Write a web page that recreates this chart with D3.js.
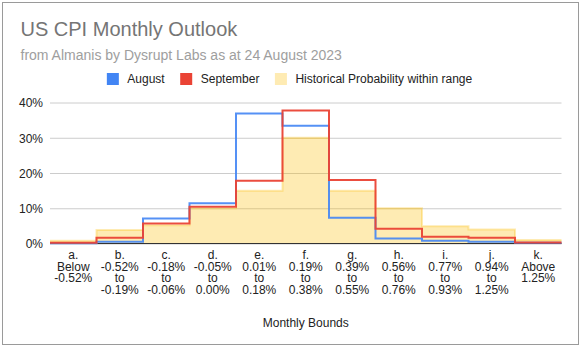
<!DOCTYPE html>
<html>
<head>
<meta charset="utf-8">
<script src="https://cdn.jsdelivr.net/npm/d3@7"></script>
<style>
  body { margin: 0; background: #fff; }
  text { font-family: Arial, "Liberation Sans", sans-serif; }
</style>
</head>
<body>
<div id="chart"></div>
<script>
// bins of the monthly CPI change
const categories = ["a.", "b.", "c.", "d.", "e.", "f.", "g.", "h.", "i.", "j.", "k."];
const boundLabels = [
  ["Below", "-0.52%"],
  ["-0.52%", "to", "-0.19%"],
  ["-0.18%", "to", "-0.06%"],
  ["-0.05%", "to", "0.00%"],
  ["0.01%", "to", "0.18%"],
  ["0.19%", "to", "0.38%"],
  ["0.39%", "to", "0.55%"],
  ["0.56%", "to", "0.76%"],
  ["0.77%", "to", "0.93%"],
  ["0.94%", "to", "1.25%"],
  ["Above", "1.25%"]
];

// probabilities in %
const august = [0.1, 0.5, 7.1, 11.4, 36.9, 33.4, 7.3, 1.4, 0.8, 0.5, 0.2];
const september = [0.2, 1.6, 5.7, 10.4, 17.8, 37.7, 18.0, 4.2, 1.9, 1.6, 0.3];
const historical = [0.8, 3.8, 5.2, 10.0, 15.0, 30.0, 15.0, 10.0, 4.9, 4.0, 1.0];

const yTicks = [0, 10, 20, 30, 40];

const width = 584;
const height = 351;
const plot = { left: 50, right: 561.5, top: 102.5, bottom: 243.5 };

const svg = d3.select("#chart").append("svg")
  .attr("width", width)
  .attr("height", height);

svg.append("rect")
  .attr("x", 2.5).attr("y", 2.5)
  .attr("width", 576).attr("height", 342)
  .attr("fill", "#fff")
  .attr("stroke", "#9a9a9a");

const x = d3.scaleBand()
  .domain(categories)
  .range([plot.left, plot.right]);

const y = d3.scaleLinear()
  .domain([0, 40])
  .range([plot.bottom, plot.top]);

// gridlines + y labels
const yAxis = svg.append("g")
  .attr("transform", `translate(${plot.left},0)`)
  .call(d3.axisLeft(y).tickValues(yTicks).tickSize(-(plot.right - plot.left)).tickFormat((d) => d + "%"));
yAxis.select(".domain").remove();
yAxis.selectAll(".tick line").attr("stroke", "#cccccc");
yAxis.selectAll(".tick text")
  .attr("x", -7)
  .attr("dy", "0.36em")
  .attr("fill", "#222")
  .style("font-size", "12px");

// step points across each band
const stepPoints = (vals) => {
  const pts = [];
  categories.forEach((c, i) => {
    pts.push([x(c), vals[i]]);
    pts.push([x(c) + x.bandwidth(), vals[i]]);
  });
  return pts;
};

const area = d3.area()
  .x((p) => p[0])
  .y0(y(0))
  .y1((p) => y(p[1]));

const line = d3.line()
  .x((p) => p[0])
  .y((p) => y(p[1]));

svg.append("path")
  .attr("d", area(stepPoints(historical)))
  .attr("fill", "#fbbc04")
  .attr("fill-opacity", 0.3);

// baseline
svg.append("line")
  .attr("x1", plot.left).attr("x2", plot.right)
  .attr("y1", y(0)).attr("y2", y(0))
  .attr("stroke", "#333");

svg.append("path")
  .attr("d", line(stepPoints(historical)))
  .attr("fill", "none")
  .attr("stroke", "#fbbc04")
  .attr("stroke-opacity", 0.3)
  .attr("stroke-width", 2);

svg.append("path")
  .attr("d", line(stepPoints(august)))
  .attr("fill", "none")
  .attr("stroke", "#4285f4")
  .attr("stroke-opacity", 0.9)
  .attr("stroke-width", 2);

svg.append("path")
  .attr("d", line(stepPoints(september)))
  .attr("fill", "none")
  .attr("stroke", "#ea4335")
  .attr("stroke-opacity", 0.95)
  .attr("stroke-width", 2);

// x labels
const xl = svg.append("g").selectAll("text")
  .data(categories)
  .enter().append("text")
  .attr("x", (c) => x(c) + x.bandwidth() / 2)
  .attr("text-anchor", "middle")
  .attr("fill", "#222")
  .style("font-size", "12px");
xl.each(function (c, i) {
  const lines = [c].concat(boundLabels[i]);
  d3.select(this).selectAll("tspan")
    .data(lines)
    .enter().append("tspan")
    .attr("x", x(c) + x.bandwidth() / 2)
    .attr("y", (d, j) => 259 + j * 11.5)
    .text((d) => d);
});

svg.append("text")
  .attr("x", (plot.left + plot.right) / 2)
  .attr("y", 326.5)
  .attr("text-anchor", "middle")
  .attr("fill", "#222")
  .style("font-size", "12px")
  .text("Monthly Bounds");

// titles
svg.append("text")
  .attr("x", 20.5).attr("y", 36)
  .attr("fill", "#757575")
  .style("font-size", "20px")
  .text("US CPI Monthly Outlook");

svg.append("text")
  .attr("x", 20.5).attr("y", 59.5)
  .attr("fill", "#9e9e9e")
  .style("font-size", "14px")
  .text("from Almanis by Dysrupt Labs as at 24 August 2023");

// legend
const legendItems = [
  { name: "August", color: "#4285f4", op: 1 },
  { name: "September", color: "#ea4335", op: 1 },
  { name: "Historical Probability within range", color: "#fbbc04", op: 0.3 }
];
const legend = svg.append("g");
let lx = 0;
legendItems.forEach((it) => {
  legend.append("rect")
    .attr("x", lx).attr("y", 73)
    .attr("width", 12).attr("height", 12)
    .attr("fill", it.color)
    .attr("fill-opacity", it.op);
  const t = legend.append("text")
    .attr("x", lx + 20.5).attr("y", 83)
    .attr("fill", "#222")
    .style("font-size", "12px")
    .text(it.name);
  lx += 20.5 + t.node().getComputedTextLength() + 15.5;
});
const lw = lx - 15.5;
legend.attr("transform", `translate(${108 + (363 - lw) / 2},0)`);
</script>
</body>
</html>
